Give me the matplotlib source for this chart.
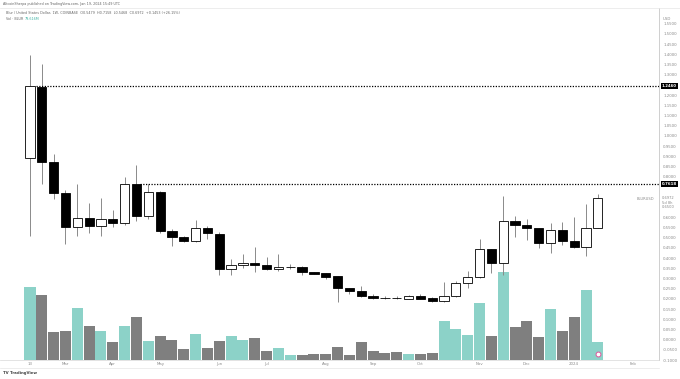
import numpy as np
import matplotlib
matplotlib.use("Agg")
import matplotlib.pyplot as plt
import matplotlib.transforms as mtransforms

# weekly BLUR/USD candles, Feb 13 2023 -> Jan 15 2024
opens = [0.8924, 1.2395, 0.8709, 0.7212, 0.553, 0.599, 0.558, 0.594, 0.5745, 0.765,
         0.6068, 0.726, 0.5334, 0.504, 0.4816, 0.5466, 0.5207, 0.3462, 0.3657, 0.374,
         0.3657, 0.3462, 0.3545, 0.358, 0.33, 0.3256, 0.3105, 0.2547, 0.2371, 0.2127,
         0.2043, 0.2035, 0.1995, 0.2156, 0.2029, 0.19, 0.2127, 0.2762, 0.3056, 0.4425,
         0.374, 0.5823, 0.5613, 0.5466, 0.4748, 0.5383, 0.483, 0.4537, 0.5479]
highs = [1.3975, 1.3535, 0.912, 0.734, 0.7618, 0.669, 0.6933, 0.636, 0.7975, 0.856,
         0.7618, 0.729, 0.5418, 0.509, 0.586, 0.558, 0.5305, 0.394, 0.4195, 0.4523,
         0.4034, 0.4209, 0.3706, 0.36, 0.331, 0.328, 0.3105, 0.2547, 0.2616, 0.224,
         0.216, 0.212, 0.219, 0.224, 0.2078, 0.281, 0.289, 0.3349, 0.4929, 0.445,
         0.7046, 0.6068, 0.5907, 0.55, 0.5745, 0.5775, 0.6019, 0.6674, 0.7158]
lows = [0.5075, 0.7618, 0.6885, 0.4684, 0.509, 0.5256, 0.509, 0.555, 0.5628, 0.5823,
        0.5907, 0.5222, 0.46, 0.4767, 0.4767, 0.4929, 0.3183, 0.3183, 0.351, 0.33,
        0.3427, 0.3378, 0.3462, 0.3168, 0.32, 0.2973, 0.1833, 0.224, 0.21, 0.1995,
        0.1978, 0.197, 0.198, 0.199, 0.1833, 0.1833, 0.21, 0.2518, 0.303, 0.3266,
        0.3183, 0.5012, 0.4894, 0.4488, 0.4244, 0.4635, 0.45, 0.4083, 0.5468]
closes = [1.246, 0.8709, 0.7178, 0.553, 0.599, 0.558, 0.594, 0.5745, 0.765, 0.6068,
          0.726, 0.5334, 0.504, 0.4816, 0.5466, 0.5222, 0.3462, 0.3657, 0.374, 0.3645,
          0.3462, 0.3545, 0.358, 0.33, 0.3217, 0.3085, 0.2532, 0.24, 0.2127, 0.2043,
          0.202, 0.2025, 0.2156, 0.1995, 0.1896, 0.2127, 0.2762, 0.3056, 0.4425, 0.374,
          0.5823, 0.5613, 0.5466, 0.4748, 0.5383, 0.483, 0.4537, 0.5479, 0.6972]
# volume in millions of BLUR
volumes = [319, 284, 122, 127, 226, 148, 126, 80, 148, 185,
           81, 103, 87, 46, 111, 52, 81, 106, 85, 96,
           40, 52, 23, 20, 26, 26, 58, 23, 80, 37,
           32, 33, 24, 26, 30, 171, 135, 109, 246, 106,
           381, 142, 171, 98, 220, 127, 185, 306, 79.6]

month_pos = [0, 3, 7, 11, 16, 20, 25, 29, 33, 38, 42, 46, 51]
month_lbl = ["13", "Mar", "Apr", "May", "Jun", "Jul", "Aug", "Sep", "Oct", "Nov", "Dec", "2024", "Feb"]

levels = [1.2460, 0.7618]
level_start = [0.5, 9.3]

teal = "#8cd2c8"
grey = "#7f7f7f"

W, H = 680, 379
fig = plt.figure(figsize=(W / 100, H / 100), dpi=100)
ax = fig.add_axes([0, 19 / H, 659 / W, 352 / H])
vax = ax.twinx()
ax.set_zorder(vax.get_zorder() + 1)
ax.patch.set_visible(False)

x = np.arange(len(opens))
o = np.array(opens); c = np.array(closes)
up = c >= o

# volume overlay
vax.bar(x, volumes, width=0.93, color=[teal if u else grey for u in up], linewidth=0)
vax.set_ylim(0, 1531)
vax.axis("off")

# candles
ax.vlines(x, lows, highs, color="#8a8a8a", linewidth=0.7, zorder=2)
body_lo = np.minimum(o, c)
body_h = np.maximum(np.abs(c - o), 0.002)
ax.bar(x, body_h, bottom=body_lo, width=0.78,
       color=["white" if u else "black" for u in up], edgecolor="black", linewidth=0.6, zorder=3)

ax.set_xlim(-2.536, 53.17)
ax.set_ylim(-0.094, 1.6273)

# dotted levels
trans = mtransforms.blended_transform_factory(ax.transAxes, ax.transData)
for lv, st in zip(levels, level_start):
    ax.hlines(lv, st, 53.17, colors="black", linestyles=(0, (1, 1.2)), linewidth=0.9, zorder=4)
    ax.text(1.004, lv, f"{lv:.4f}", transform=trans, fontsize=2.8, color="white",
            va="center", ha="left", fontweight="bold",
            bbox=dict(boxstyle="square,pad=0.25", fc="black", ec="none"), clip_on=False)

# price scale
ticks = [t for t in np.arange(-0.10, 1.56, 0.05)
         if all(abs(t - lv) > 0.02 for lv in levels) and abs(t - 0.6972) > 0.06]
ax.yaxis.tick_right()
ax.set_yticks(ticks)
ax.set_yticklabels([f"{t:.4f}".replace("-0.0000", "0.0000") for t in ticks])
ax.tick_params(axis="y", length=0, pad=3, labelsize=2.8, labelcolor="#8a8a8a")
ax.text(1.006, 1.575, "USD", transform=trans, fontsize=2.8, color="#8a8a8a", va="center")

# last price tag
ax.text(1.004, closes[-1] + 0.006, f"{closes[-1]:.4f}\n5d 8h\n0.6500", transform=trans, fontsize=2.6,
        color="#8a8a8a", va="top", ha="left", linespacing=1.1, clip_on=False)
ax.text(0.993, closes[-1] + 0.005, "BLURUSD", transform=trans, fontsize=2.6,
        color="#8a8a8a", va="top", ha="right")

# time axis
ax.set_xticks(month_pos)
ax.set_xticklabels(month_lbl)
ax.tick_params(axis="x", length=0, pad=1.2, labelsize=2.8, labelcolor="#8a8a8a")

for s in ["top", "left"]:
    ax.spines[s].set_visible(False)
ax.spines["right"].set_color("#c8c8c8")
ax.spines["right"].set_linewidth(0.6)
ax.spines["bottom"].set_color("#d8d8d8")
ax.spines["bottom"].set_linewidth(0.5)

# marker on last volume bar
bt = mtransforms.blended_transform_factory(ax.transData, ax.transAxes)
ax.plot([48], [0.017], transform=bt, marker="o", ms=3.5, mfc="white", mec="#e0559b",
        mew=0.7, zorder=6, clip_on=False)

# header / footer
fig.add_artist(plt.Line2D([0, 1], [1 - 8 / H, 1 - 8 / H], color="#e6e6e6", lw=0.5))
fig.add_artist(plt.Line2D([0, 659 / W], [1 - 368 / H, 1 - 368 / H], color="#e6e6e6", lw=0.5))
fig.text(3 / W, 1 - 4 / H, "AltcoinSherpa published on TradingView.com, Jan 19, 2024 15:49 UTC",
         fontsize=2.45, color="#666666", va="center")
fig.text(6 / W, 1 - 13 / H,
         "Blur / United States Dollar, 1W, COINBASE  O0.5479  H0.7158  L0.5468  C0.6972  +0.1453 (+26.15%)",
         fontsize=2.4, color="#666666", va="center")
fig.text(6 / W, 1 - 19 / H, "Vol · BLUR  ", fontsize=2.4, color="#666666", va="center")
fig.text(25 / W, 1 - 19 / H, "79.616M", fontsize=2.4, color="#3fb3a4", va="center")
fig.text(3 / W, 1 - 373 / H, "TV TradingView", fontsize=2.8, color="#444444", va="center",
         fontweight="bold")

fig.savefig("out.png", dpi=100)
